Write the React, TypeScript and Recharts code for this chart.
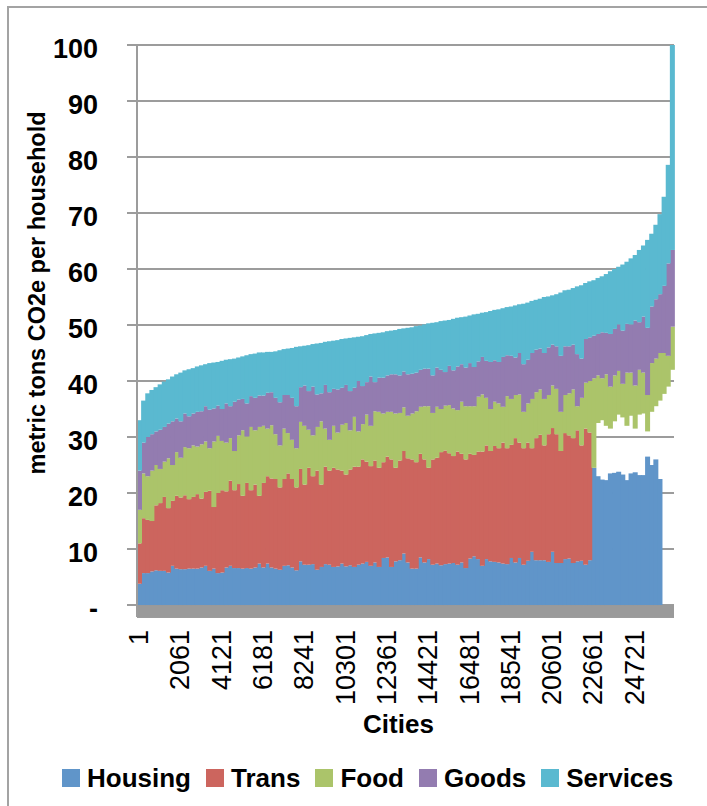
import React from 'react';
import { BarChart, Bar, XAxis, YAxis, CartesianGrid, Legend, ReferenceArea } from 'recharts';

// Cities (first city of each group of 206, sorted by total footprint)
const cities = [
  1, 207, 413, 619, 825, 1031, 1237, 1443, 1649, 1855,
  2061, 2267, 2473, 2679, 2885, 3091, 3297, 3503, 3709, 3915,
  4121, 4327, 4533, 4739, 4945, 5151, 5357, 5563, 5769, 5975,
  6181, 6387, 6593, 6799, 7005, 7211, 7417, 7623, 7829, 8035,
  8241, 8447, 8653, 8859, 9065, 9271, 9477, 9683, 9889, 10095,
  10301, 10507, 10713, 10919, 11125, 11331, 11537, 11743, 11949, 12155,
  12361, 12567, 12773, 12979, 13185, 13391, 13597, 13803, 14009, 14215,
  14421, 14627, 14833, 15039, 15245, 15451, 15657, 15863, 16069, 16275,
  16481, 16687, 16893, 17099, 17305, 17511, 17717, 17923, 18129, 18335,
  18541, 18747, 18953, 19159, 19365, 19571, 19777, 19983, 20189, 20395,
  20601, 20807, 21013, 21219, 21425, 21631, 21837, 22043, 22249, 22455,
  22661, 22867, 23073, 23279, 23485, 23691, 23897, 24103, 24309, 24515,
  24721, 24927, 25133, 25339, 25545, 25751, 25957, 26163, 26369, 26575,
];

const housing = [
  3.8, 5.7, 5.7, 6.0, 6.2, 6.1, 6.1, 5.8, 7.0, 6.5,
  6.4, 6.4, 6.5, 6.5, 6.5, 6.7, 7.0, 6.1, 6.5, 5.7,
  5.8, 6.7, 7.0, 6.6, 6.6, 6.5, 6.6, 6.5, 6.7, 7.4,
  6.7, 7.4, 6.7, 6.5, 6.3, 7.0, 7.1, 6.7, 6.2, 7.8,
  7.2, 7.2, 7.3, 6.3, 6.8, 7.3, 7.2, 6.8, 6.9, 7.4,
  6.9, 7.1, 6.8, 7.2, 7.4, 7.7, 7.0, 7.6, 6.8, 8.4,
  8.5, 6.8, 7.8, 8.0, 9.2, 7.6, 6.5, 6.5, 8.5, 7.6,
  8.2, 7.2, 7.4, 7.1, 7.3, 7.4, 7.5, 7.2, 7.6, 6.6,
  8.3, 8.7, 8.2, 7.0, 8.2, 7.8, 7.7, 7.6, 7.4, 7.3,
  8.4, 7.6, 8.4, 7.2, 7.9, 9.5, 8.0, 8.0, 8.0, 7.7,
  9.5, 7.5, 7.5, 8.2, 8.3, 7.5, 7.8, 7.9, 7.2, 8.0,
  24.5, 23.0, 22.4, 22.3, 23.5, 23.6, 23.8, 23.3, 22.3, 23.5,
  23.7, 23.2, 23.2, 26.5, 25.0, 26.0, 22.5, 0, 0, 0,
];

const trans = [
  7.2, 9.8, 9.5, 9.0, 11.6, 12.1, 13.2, 11.5, 11.6, 13.0,
  12.8, 13.2, 12.4, 12.8, 13.3, 12.3, 13.2, 14.3, 11.0, 14.3,
  14.7, 13.6, 15.2, 13.9, 15.0, 13.0, 15.2, 14.0, 14.8, 12.1,
  15.1, 15.6, 15.9, 16.0, 14.7, 15.5, 16.4, 15.8, 14.8, 16.5,
  14.3, 17.3, 15.7, 17.7, 14.7, 17.4, 16.8, 17.7, 17.3, 16.6,
  16.4, 17.1, 17.9, 17.5, 18.6, 17.9, 17.8, 18.2, 17.7, 17.1,
  18.0, 19.2, 16.7, 17.8, 18.3, 18.6, 19.5, 19.0, 18.5, 18.4,
  16.3, 18.8, 18.9, 20.2, 20.3, 19.7, 19.1, 20.2, 19.4, 19.4,
  18.7, 18.1, 19.2, 20.4, 20.3, 19.7, 20.7, 20.4, 21.6, 20.7,
  20.2, 22.2, 20.6, 20.8, 21.1, 18.5, 21.8, 22.4, 20.5, 22.8,
  22.1, 23.0, 20.0, 22.5, 22.0, 22.3, 23.4, 20.6, 24.3, 22.8,
  0, 0, 0, 0, 0, 0, 0, 0, 0, 0,
  0, 0, 0, 0, 0, 0, 0, 0, 0, 0,
];

// empty band (no Housing/Trans reported) shown as white space under Food
const blank = [
  0, 0, 0, 0, 0, 0, 0, 0, 0, 0,
  0, 0, 0, 0, 0, 0, 0, 0, 0, 0,
  0, 0, 0, 0, 0, 0, 0, 0, 0, 0,
  0, 0, 0, 0, 0, 0, 0, 0, 0, 0,
  0, 0, 0, 0, 0, 0, 0, 0, 0, 0,
  0, 0, 0, 0, 0, 0, 0, 0, 0, 0,
  0, 0, 0, 0, 0, 0, 0, 0, 0, 0,
  0, 0, 0, 0, 0, 0, 0, 0, 0, 0,
  0, 0, 0, 0, 0, 0, 0, 0, 0, 0,
  0, 0, 0, 0, 0, 0, 0, 0, 0, 0,
  0, 0, 0, 0, 0, 0, 0, 0, 0, 0,
  0, 9.5, 10.6, 9.7, 8.0, 9.2, 10.2, 10.2, 9.7, 10.3,
  7.8, 10.8, 11.0, 4.5, 9.5, 9.5, 14.0, 37.7, 39.0, 42.0,
];

const food = [
  6.0, 8.0, 7.8, 9.0, 7.2, 6.1, 6.3, 8.9, 6.4, 7.8,
  7.1, 8.6, 9.1, 9.2, 8.5, 9.7, 9.0, 7.6, 11.7, 10.2,
  8.8, 8.7, 7.6, 7.0, 8.7, 11.7, 8.3, 11.3, 9.7, 12.3,
  10.2, 8.5, 9.5, 8.0, 7.5, 9.0, 7.2, 7.0, 7.0, 8.4,
  10.5, 6.8, 7.3, 7.8, 11.3, 6.8, 5.5, 7.5, 6.6, 8.2,
  9.2, 7.0, 8.9, 6.3, 6.3, 8.4, 7.2, 8.8, 10.0, 8.7,
  8.0, 8.5, 9.7, 8.5, 7.8, 7.6, 8.2, 9.1, 8.4, 9.5,
  11.0, 8.3, 9.1, 7.7, 8.0, 8.6, 8.5, 7.4, 9.3, 9.5,
  8.5, 8.7, 9.8, 10.2, 8.5, 7.5, 7.9, 8.0, 6.4, 9.3,
  8.2, 7.7, 8.6, 6.5, 7.0, 8.8, 8.2, 8.1, 8.3, 7.0,
  7.6, 8.1, 7.0, 6.8, 7.5, 8.7, 4.3, 8.5, 8.2, 9.2,
  16.0, 8.5, 7.5, 9.2, 7.5, 8.2, 7.8, 6.0, 9.5, 7.7,
  7.7, 8.0, 7.3, 6.5, 8.7, 8.5, 8.5, 7.3, 5.5, 7.7,
];

const goods = [
  7.0, 5.5, 7.0, 6.5, 6.0, 7.0, 6.2, 6.2, 7.8, 6.0,
  6.5, 6.0, 5.7, 5.7, 6.2, 5.9, 6.3, 6.9, 5.9, 5.4,
  5.7, 7.0, 5.7, 8.8, 6.4, 5.6, 5.9, 5.5, 5.8, 5.6,
  5.4, 6.4, 5.9, 6.5, 7.7, 6.0, 6.8, 7.5, 7.5, 6.2,
  7.2, 6.9, 8.7, 5.8, 5.0, 7.8, 8.5, 6.6, 7.7, 6.6,
  6.8, 7.0, 5.2, 9.0, 6.8, 5.8, 8.8, 5.2, 6.1, 6.4,
  6.5, 6.7, 7.0, 6.7, 6.4, 7.4, 7.1, 6.9, 6.6, 6.7,
  6.7, 6.7, 7.0, 7.0, 6.0, 7.0, 6.8, 7.8, 6.7, 6.9,
  7.7, 7.0, 6.3, 6.7, 6.6, 8.4, 7.4, 7.4, 8.9, 7.3,
  7.7, 6.7, 7.4, 8.5, 7.8, 8.2, 7.6, 7.3, 8.2, 8.5,
  7.3, 7.6, 10.0, 8.7, 8.4, 8.0, 9.3, 7.0, 7.8, 7.8,
  7.6, 7.4, 8.2, 7.4, 9.4, 8.3, 8.3, 9.5, 8.7, 8.6,
  11.6, 8.5, 10.0, 12.0, 10.1, 10.6, 10.5, 12.0, 16.5, 13.7,
];

const services = [
  9.0, 7.5, 7.8, 7.9, 7.9, 8.1, 8.1, 7.9, 8.0, 7.9,
  8.7, 7.7, 8.4, 8.1, 8.1, 8.2, 7.5, 8.3, 8.2, 7.8,
  8.6, 7.8, 8.4, 7.7, 7.5, 7.6, 8.6, 7.5, 7.9, 7.7,
  7.7, 7.3, 7.2, 8.3, 9.3, 8.2, 8.3, 8.9, 10.6, 7.3,
  7.1, 8.2, 7.6, 9.1, 9.0, 7.7, 9.1, 8.6, 8.8, 8.7,
  8.3, 9.5, 9.0, 7.9, 8.9, 8.4, 7.6, 8.7, 8.0, 8.1,
  7.9, 7.8, 7.9, 8.3, 7.7, 8.3, 8.3, 8.3, 7.9, 7.9,
  8.1, 9.4, 8.1, 8.7, 9.2, 8.2, 9.2, 8.7, 8.4, 9.1,
  8.5, 9.4, 8.5, 7.9, 8.7, 9.1, 9.0, 9.4, 8.7, 8.6,
  8.8, 9.3, 8.7, 10.8, 10.2, 9.3, 8.9, 8.9, 10.0, 9.1,
  8.8, 9.3, 11.3, 10.0, 10.1, 10.1, 12.1, 13.1, 10.0, 10.0,
  9.9, 10.0, 10.0, 10.5, 11.2, 10.7, 10.3, 11.8, 11.1, 11.8,
  11.7, 12.9, 12.7, 15.7, 13.0, 13.3, 14.3, 15.9, 17.6, 36.6,
];

const yTicks = [0, 10, 20, 30, 40, 50, 60, 70, 80, 90, 100];

const series = [
  { key: 'housing', name: 'Housing', color: '#6095c9' },
  { key: 'trans', name: 'Trans', color: '#cc655e' },
  { key: 'blank', name: 'blank', color: 'none' },
  { key: 'food', name: 'Food', color: '#abc46a' },
  { key: 'goods', name: 'Goods', color: '#937cb0' },
  { key: 'services', name: 'Services', color: '#5ab9d0' },
];
const legendOrder = ['Housing', 'Trans', 'Food', 'Goods', 'Services'];

const data = cities.map((city, i) => ({
  city,
  housing: housing[i],
  trans: trans[i],
  blank: blank[i],
  food: food[i],
  goods: goods[i],
  services: services[i],
}));

const FONT = '"Liberation Sans", Arial, sans-serif';

const XTick = (props: any) => {
  const { x, y, payload } = props;
  return (
    <text
      x={x}
      y={y}
      transform={`rotate(-90, ${x}, ${y})`}
      textAnchor="end"
      dominantBaseline="central"
      fontSize={27}
      fontFamily={FONT}
      fill="#000"
    >
      {payload.value}
    </text>
  );
};

const YTick = (props: any) => {
  const { x, y, payload } = props;
  return (
    <text x={x} y={y} dy={13} textAnchor="end" fontSize={27} fontWeight="bold" fontFamily={FONT} fill="#000">
      {payload.value === 0 ? '-' : payload.value}
    </text>
  );
};

const YLabel = (props: any) => {
  const vb = props.viewBox || { x: 0, y: 45 };
  const cx = vb.x + 37;
  const cy = vb.y + 248;
  return (
    <text
      x={cx}
      y={cy}
      transform={`rotate(-90, ${cx}, ${cy})`}
      textAnchor="middle"
      dominantBaseline="central"
      fontSize={23.5}
      fontWeight="bold"
      fontFamily={FONT}
      fill="#000"
    >
      metric tons CO2e per household
    </text>
  );
};

const XLabel = (props: any) => {
  const vb = props.viewBox || { x: 137, y: 617, width: 537 };
  return (
    <text
      x={vb.x + vb.width / 2 - 7}
      y={vb.y + 116}
      textAnchor="middle"
      fontSize={26}
      fontWeight="bold"
      fontFamily={FONT}
      fill="#000"
    >
      Cities
    </text>
  );
};

const LegendContent = (props: any) => {
  const items = (props.payload || [])
    .filter((e: any) => legendOrder.indexOf(e.value) >= 0)
    .sort((a: any, b: any) => legendOrder.indexOf(a.value) - legendOrder.indexOf(b.value));
  return (
    <div style={{ display: 'flex', alignItems: 'center', paddingLeft: 62, height: 30 }}>
      {items.map((e: any) => (
        <div key={e.value} style={{ display: 'flex', alignItems: 'center', marginRight: 15 }}>
          <span style={{ width: 18, height: 18, background: e.color, marginRight: 7, display: 'inline-block' }} />
          <span style={{ fontSize: 26, fontWeight: 'bold', fontFamily: FONT, lineHeight: '30px', color: '#000', whiteSpace: 'nowrap' }}>
            {e.value}
          </span>
        </div>
      ))}
    </div>
  );
};

// each column is widened by one pixel under its right neighbour so no seams show
const makeShape = (color: string) => (p: any) => {
  if (!p.height || p.height <= 0) return <g />;
  return <rect x={p.x} y={p.y} width={p.width + 1} height={p.height} fill={color} />;
};

export default function App() {
  return (
    <div style={{ position: 'absolute', left: 0, top: 0, width: 707, height: 806, background: '#fff', overflow: 'hidden', fontFamily: FONT }}>
      <div
        style={{
          position: 'absolute',
          left: 7,
          top: 6,
          width: 720,
          height: 820,
          borderTop: '2px solid #a3a3a3',
          borderLeft: '2px solid #a3a3a3',
        }}
      />
      <div style={{ position: 'absolute', left: 0, top: 0 }}>
        <BarChart
          width={707}
          height={806}
          data={data}
          margin={{ top: 45, right: 33, bottom: 13, left: 0 }}
          barCategoryGap={0}
          barGap={0}
        >
          <CartesianGrid vertical={false} stroke="#9c9c9c" strokeWidth={2} />
          <ReferenceArea y1={-2.14} y2={0} fill="#9a9a9a" fillOpacity={1} stroke="none" />
          <XAxis
            dataKey="city"
            interval={9}
            tick={<XTick />}
            tickLine={false}
            axisLine={false}
            tickSize={0}
            tickMargin={13}
            height={146}
            label={{ content: <XLabel /> }}
          />
          <YAxis
            type="number"
            domain={[-2.14, 100]}
            ticks={yTicks}
            width={137}
            tick={<YTick />}
            tickSize={10}
            tickMargin={29}
            tickLine={{ stroke: '#9c9c9c', strokeWidth: 2 }}
            axisLine={{ stroke: '#9c9c9c', strokeWidth: 2 }}
            allowDataOverflow
            label={{ content: <YLabel /> }}
          />
          <Legend verticalAlign="bottom" itemSorter={null as any} content={<LegendContent />} />
          {series.map((s) =>
            s.key === 'blank' ? (
              <Bar
                key={s.key}
                dataKey={s.key}
                name={s.name}
                stackId="a"
                fill="none"
                stroke="none"
                legendType="none"
                isAnimationActive={false}
              />
            ) : (
              <Bar
                key={s.key}
                dataKey={s.key}
                name={s.name}
                stackId="a"
                fill={s.color}
                shape={makeShape(s.color)}
                isAnimationActive={false}
              />
            )
          )}
        </BarChart>
      </div>
    </div>
  );
}
